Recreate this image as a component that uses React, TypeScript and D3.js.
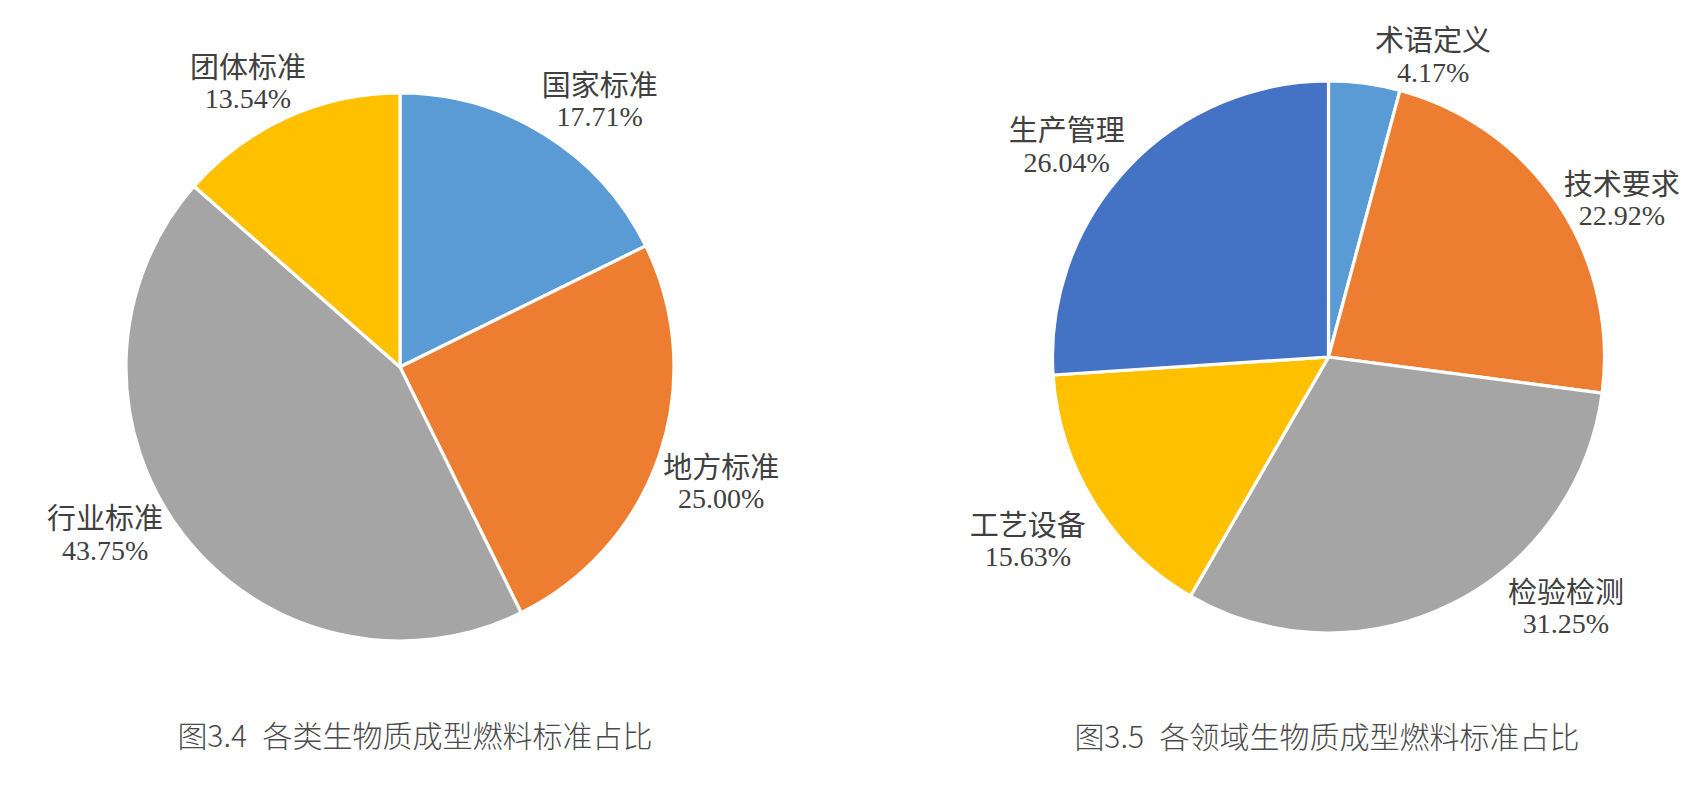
import React from "react";
import * as d3 from "d3";

// ---- Data ----
const leftCategories = ["国家标准", "地方标准", "行业标准", "团体标准"];
const leftValues = [17.71, 25.0, 43.75, 13.54];
const leftColors = ["#5B9BD5", "#ED7D31", "#A5A5A5", "#FFC000"];
const leftTitle = "图3.4 各类生物质成型燃料标准占比";

const rightCategories = ["术语定义", "技术要求", "检验检测", "工艺设备", "生产管理"];
const rightValues = [4.17, 22.92, 31.25, 15.63, 26.04];
const rightColors = ["#5B9BD5", "#ED7D31", "#A5A5A5", "#FFC000", "#4472C4"];
const rightTitle = "图3.5 各领域生物质成型燃料标准占比";

// ---- Layout (label placement: angle shift from slice mid-angle in degrees, distance from centre) ----
const leftLabelShift = [4.9, 0.9, 8.1, -3.7];
const leftLabelDist = [333.6, 341, 338.5, 323];
const rightLabelShift = [11.6, 5.4, -17.3, 0.6, -4.2];
const rightLabelDist = [319.6, 333.3, 344.8, 351.8, 336.6];

const W = 1707;
const H = 789;

type PieProps = {
  cx: number;
  cy: number;
  r: number;
  categories: string[];
  values: number[];
  colors: string[];
  shift: number[];
  dist: number[];
  title: string;
  titleX: number;
  titleY: number;
};

function Pie({ cx, cy, r, categories, values, colors, shift, dist, title, titleX, titleY }: PieProps) {
  const pie = d3
    .pie<number>()
    .sort(null)
    .value((d) => d);
  const arcs = pie(values);
  const arc = d3.arc<d3.PieArcDatum<number>>().innerRadius(0).outerRadius(r);
  return (
    <g>
      <g transform={`translate(${cx},${cy})`}>
        {arcs.map((a, i) => (
          <path key={i} d={arc(a) || ""} fill={colors[i]} stroke="#fff" strokeWidth={3.2} strokeLinejoin="round" />
        ))}
        {arcs.map((a, i) => {
          const mid = (a.startAngle + a.endAngle) / 2 + (shift[i] * Math.PI) / 180;
          const x = Math.sin(mid) * dist[i];
          const y = -Math.cos(mid) * dist[i];
          return (
            <g key={"l" + i} transform={`translate(${x},${y})`}>
              <text
                textAnchor="middle"
                y={-4}
                fontFamily="'Noto Sans CJK SC', 'Noto Sans', sans-serif"
                fontSize={29}
                fill="#404040"
              >
                {categories[i]}
              </text>
              <text
                textAnchor="middle"
                y={26.5}
                fontFamily="'Liberation Serif', 'Times New Roman', serif"
                fontSize={28}
                fill="#404040"
              >
                {values[i].toFixed(2) + "%"}
              </text>
            </g>
          );
        })}
      </g>
      <text
        x={titleX}
        y={titleY}
        textAnchor="middle"
        fontFamily="'Noto Sans CJK SC', 'Noto Sans', sans-serif"
        fontWeight={300}
        fontSize={30}
        wordSpacing={9}
        fill="#4a4a4a"
      >
        {title}
      </text>
    </g>
  );
}

export default function App() {
  return (
    <svg
      width={W}
      height={H}
      viewBox={`0 0 ${W} ${H}`}
      style={{ position: "absolute", left: 0, top: 0, background: "#fff", display: "block" }}
    >
      <rect x={0} y={0} width={W} height={H} fill="#fff" />
      <Pie
        cx={400}
        cy={367}
        r={274}
        categories={leftCategories}
        values={leftValues}
        colors={leftColors}
        shift={leftLabelShift}
        dist={leftLabelDist}
        title={leftTitle}
        titleX={415}
        titleY={747}
      />
      <Pie
        cx={1328.5}
        cy={357}
        r={276}
        categories={rightCategories}
        values={rightValues}
        colors={rightColors}
        shift={rightLabelShift}
        dist={rightLabelDist}
        title={rightTitle}
        titleX={1327}
        titleY={748}
      />
    </svg>
  );
}
